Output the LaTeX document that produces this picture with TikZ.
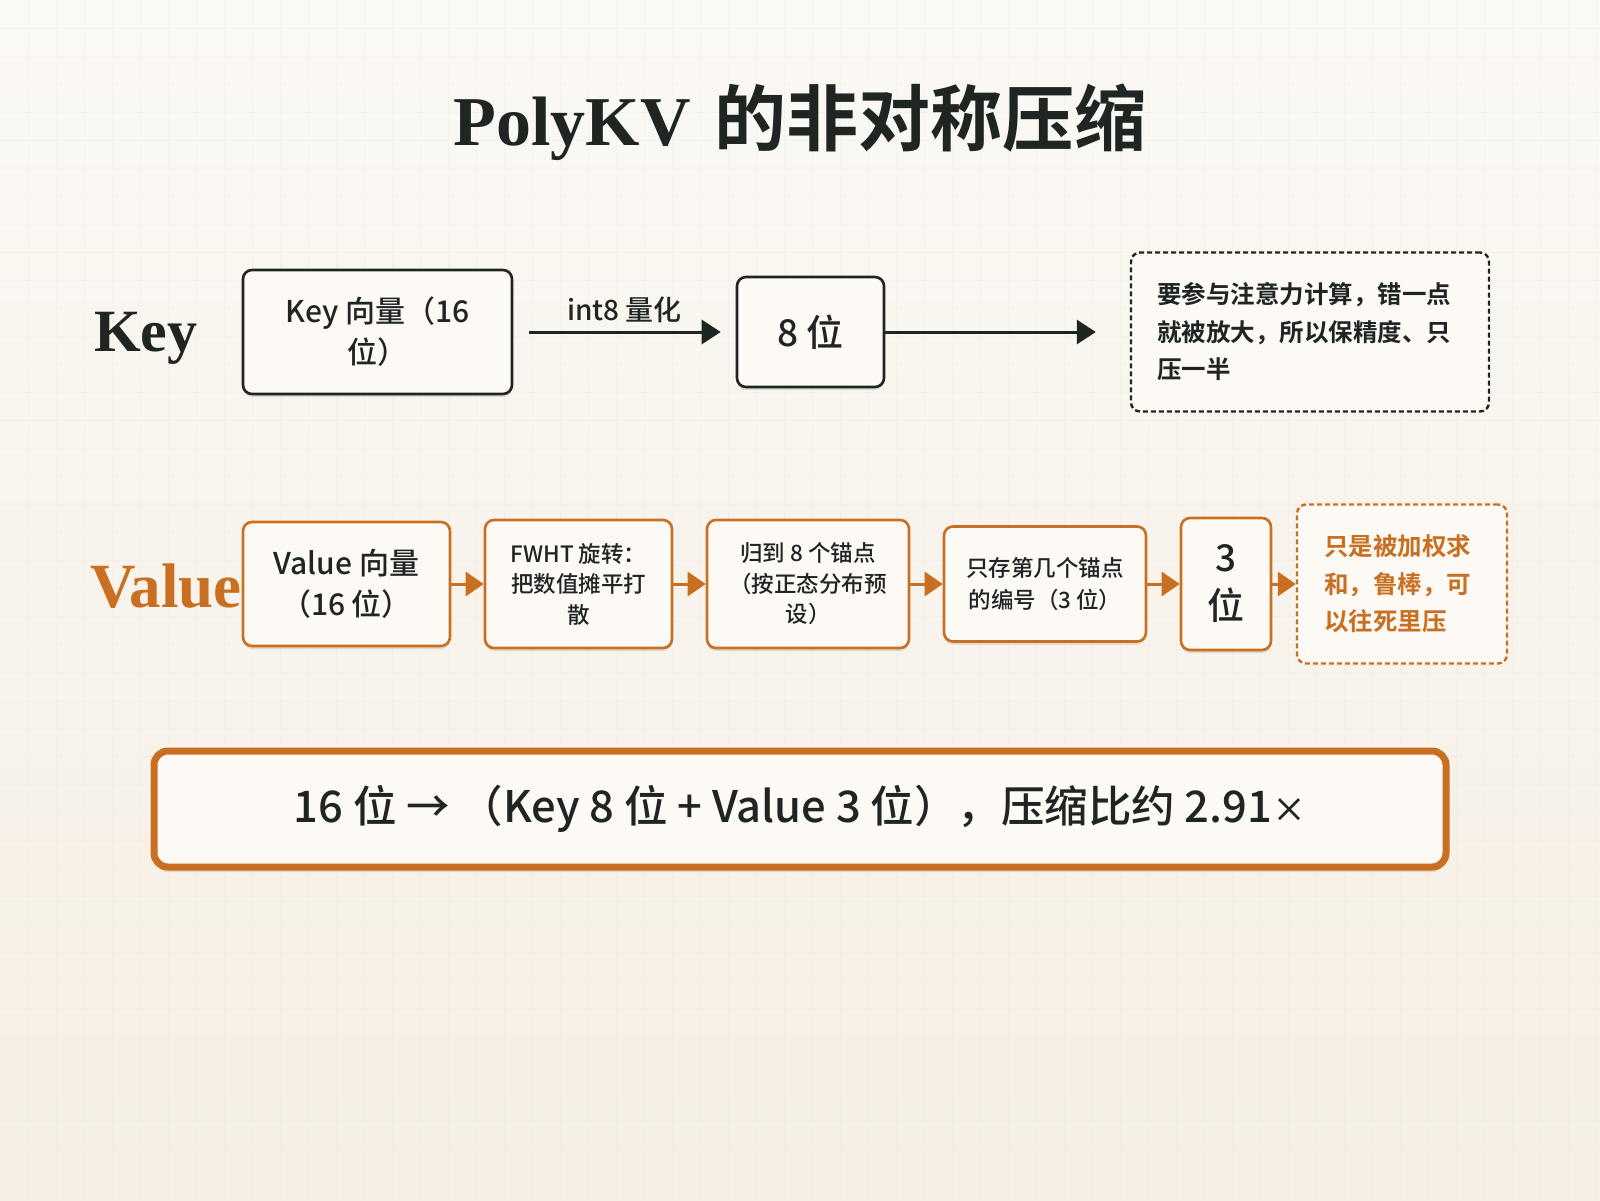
\documentclass[tikz,border=0pt]{standalone}
\usepackage{fontspec}
\setmainfont{Noto Sans CJK SC}[UprightFont={* Medium}, BoldFont={* Bold}]
\newfontfamily\titleserif{Liberation Serif}[UprightFont={* Bold}]
\newfontfamily\cjkheavy{Noto Sans CJK SC}[UprightFont={* Bold}]
\usetikzlibrary{arrows.meta,shadows}
\definecolor{ink}{HTML}{1F2523}
\definecolor{orng}{HTML}{C86F21}
\definecolor{boxfill}{HTML}{FDFAF5}
\definecolor{bgtop}{HTML}{FBF9F5}
\definecolor{bgbot}{HTML}{F5EEE3}
\definecolor{gridc}{HTML}{EEE9E0}
\tikzset{
  boxshadow/.style={drop shadow={shadow xshift=0pt, shadow yshift=-3pt, opacity=0.10, fill=black}},
  kbox/.style={draw=ink, line width=2.6pt, rounded corners=9pt, fill=boxfill, align=center,
    inner sep=0pt, text=ink, boxshadow},
  vbox/.style={draw=orng, line width=2.6pt, rounded corners=9pt, fill=boxfill, align=center,
    inner sep=0pt, text=ink, boxshadow},
  knote/.style={draw=ink, line width=2.4pt, dashed, dash pattern=on 5pt off 3pt, rounded corners=9pt,
    fill=boxfill, align=left, inner sep=0pt, text=ink, font=\bfseries\fontsize{24.5}{37.5}\selectfont},
  vnote/.style={draw=orng, line width=2.4pt, dash pattern=on 5pt off 3pt, rounded corners=9pt,
    fill=boxfill, align=left, inner sep=0pt, text=orng, font=\bfseries\fontsize{24.5}{37.5}\selectfont},
  karrow/.style={draw=ink, line width=3pt, -{Triangle[length=19pt,width=24pt]}},
  varrow/.style={draw=orng, line width=3pt, -{Triangle[length=18pt,width=24pt]}},
  rowlabel/.style={font=\titleserif\fontsize{60}{60}\selectfont, inner sep=0pt, anchor=base west},
}
\begin{document}
\begin{tikzpicture}[x=1pt,y=-1pt]
\useasboundingbox (0,0) rectangle (1600,1200);
% background
\shade[top color=bgtop, bottom color=bgbot] (0,0) rectangle (1600,1200);
\foreach \g in {28,56,...,1596} \draw[gridc, line width=0.8pt, opacity=0.3] (\g,0) -- (\g,1200);
\foreach \g in {28,56,...,1196} \draw[gridc, line width=0.8pt, opacity=0.3] (0,\g) -- (1600,\g);

% title
\node[anchor=base, inner sep=0pt, text=ink] (title) at (800,145)
  {{\titleserif\fontsize{70}{70}\selectfont PolyKV}\hspace{24pt}{\cjkheavy\fontsize{72}{72}\selectfont 的非对称压缩}};

% Key row
\node[rowlabel, text=ink] (klabel) at (94,351) {Key};
\node[kbox, minimum width=269pt, minimum height=124pt, font=\fontsize{30}{41}\selectfont] (kvec) at (377.5,332) {Key 向量（16\\位）};
\node[kbox, minimum width=147pt, minimum height=110pt, font=\fontsize{37}{44}\selectfont] (k8) at (810.5,332) {8 位};
\node[knote, minimum width=358pt, minimum height=159pt, text width=306pt] (knote) at (1310,332)
  {要参与注意力计算，错一点\\就被放大，所以保精度、只\\压一半};
\draw[karrow, shorten <=16pt, shorten >=15pt] (kvec) -- node[above=4pt, font=\fontsize{28}{30}\selectfont, text=ink] (qlabel) {int8 量化} (k8);
\draw[karrow, shorten >=34pt] (k8) -- (knote);

% Value row
\node[rowlabel, text=orng, font=\titleserif\fontsize{63}{63}\selectfont] (vlabel) at (90,607) {Value};
\node[vbox, minimum width=207pt, minimum height=124pt, font=\fontsize{30}{41}\selectfont] (v1) at (346.5,584) {Value 向量\\（16 位）};
\node[vbox, minimum width=187pt, minimum height=128pt, font=\fontsize{22.5}{30.5}\selectfont] (v2) at (578.5,584) {FWHT 旋转：\\把数值摊平打\\散};
\node[vbox, minimum width=202pt, minimum height=128pt, font=\fontsize{22.5}{30.5}\selectfont] (v3) at (808,584) {归到 8 个锚点\\（按正态分布预\\设）};
\node[vbox, minimum width=202pt, minimum height=115pt, font=\fontsize{22.5}{32}\selectfont] (v4) at (1045,584) {只存第几个锚点\\的编号（3 位）};
\node[vbox, minimum width=90pt, minimum height=132pt, font=\fontsize{37}{48}\selectfont] (v5) at (1226,584) {3\\位};
\node[vnote, minimum width=210pt, minimum height=159pt, text width=156pt] (vnote) at (1402,584)
  {只是被加权求\\和，鲁棒，可\\以往死里压};
\draw[varrow] (v1) -- (v2);
\draw[varrow] (v2) -- (v3);
\draw[varrow] (v3) -- (v4);
\draw[varrow] (v4) -- (v5);
\draw[varrow] (v5) -- (vnote);

% summary
\node[draw=orng, line width=7pt, rounded corners=14pt, fill=boxfill, minimum width=1292pt, minimum height=116pt,
  inner sep=0pt, text=ink, font=\fontsize{43.5}{46}\selectfont,
  drop shadow={shadow xshift=0pt, shadow yshift=-5pt, opacity=0.10, fill=black}] (summary) at (800,809)
  {16 位 → （Key 8 位 + Value 3 位），压缩比约 2.91{\fontsize{34}{34}\selectfont ×}};
\end{tikzpicture}
\end{document}
